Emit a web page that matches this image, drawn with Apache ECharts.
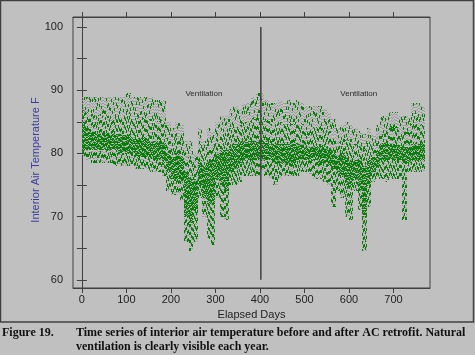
<!DOCTYPE html>
<html><head><meta charset="utf-8">
<script src="https://cdn.jsdelivr.net/npm/echarts@6/dist/echarts.min.js"></script>
<style>html,body{margin:0;padding:0;background:#c0c0c0}#c{width:475px;height:355px}</style>
</head><body><div id="c"></div>
<script>
// 10-day bins (centre day) and temperature envelope
var binDays = [5,15,25,35,45,55,65,75,85,95,105,115,125,135,145,155,165,175,185,195,205,215,225,235,245,255,265,275,285,295,305,315,325,335,345,355,365,375,385,395,405,415,425,435,445,455,465,475,485,495,505,515,525,535,545,555,565,575,585,595,605,615,625,635,645,655,665,675,685,695,705,715,725,735,745,755,765];
var hiVals = [89,89,89,89,89,89,89,89,89,89, 89.5,89,89,89,89,89,88.5,88.5,88.5,85, 84,85,84.5,82,82,80,84,82,84,83.5, 85,86,86,87,87.5,87,88,88,89,89.8, 89.5,88.5,88,88,88.5,88,88.5,88,88.5,88, 87.5,87.5,87.5,87.5,87,86.5,85.5,84,84.5,85, 84.5,84,83.5,83,84,83,84.5,86,86,86.5, 86.5,86,86,86,88,88,87.5];
var coreHiVals = [84.5,84,83.5,83,83,83,83,83,83,83, 83,82.5,82.5,82.5,82.5,82,82,82,81.5,80, 79.5,80,79.5,77,76,76,79,78,79,79, 80,80.5,80.5,81,81.5,82,82,82,82,82, 82,82,81.5,81.5,81.5,81.5,81.5,81.5,81.5,81.5, 81,81,81,81,81,80.5,80,79.5,80,79.5, 79,79,79,78,79,79.5,80.5,81.5,81.5,81.5, 81.5,81,81,81,81.5,81.5,81.5];
var coreLoVals = [80.5,80.5,80.5,80.5,80.5,80.5,80.5,80.5,80,80, 80,80,79.5,79.5,79.5,79.5,79,79,78.5,77, 76,76,75.5,70,69,71,75,73,72,72, 76,75,74,77,77.5,78.5,79,79,79,79, 79,79,79,78.5,78.5,78.5,78.5,78.5,79,79, 79,79,79,78.5,78.5,78,77.5,77,76.5,75, 75,76,74,70,75,77,78,79,79,79, 79,79,78.5,78.5,79,79,79];
var loVals = [79.5,79,78.5,78.5,78.5,78.5,78.5,78,78,78, 78,78,77.5,77.5,77.5,77,77,77,76.5,74, 73.5,73.5,72.5,66,64.5,66,73,70,66.5,65.5, 73,70,69.5,75,75,75.5,76.5,76.5,76.5,76.5, 77,76.5,76,75,76,76.5,76.5,76.5,76.5,77, 77,76.5,76,76,75.5,75,71.5,74,73,70, 69.5,74,71,64.5,71.5,75.5,76,76,75.5,76, 76,76,69.5,77,77,77,77];
var binHalfWidth = 5;
var retrofitDay = 402;
var retrofitRange = [60, 100];
var noteDays = [274, 622];
var noteTemps = [89.4, 89.4];
var noteTexts = ['Ventilation', 'Ventilation'];
var xTicks = [0,100,200,300,400,500,600,700];
var yTicks = [60,65,70,75,80,85,90,95,100];
var yLabels = [60,70,80,90,100];

var GREEN = '#008000', GREY = '#9a9a9a';
var rows = binDays.map(function(d,i){ return [d, loVals[i], coreLoVals[i], coreHiVals[i], hiVals[i]]; });

function seg(x, y1, y2, color, dash, off) {
  var o = {type:'line', silent:true, shape:{x1:x, y1:y1, x2:x, y2:y2},
    style:{stroke:color, lineWidth:1, lineCap:'butt'}};
  if (dash) { o.style.lineDash = dash; o.style.lineDashOffset = off; }
  return o;
}
// deterministic hashed texture phase per pixel column (styling only)
function ph(c, k, p) {
  var h = (Math.imul(c + 1000, 374761393) + Math.imul(k, 668265263)) | 0;
  h = Math.imul(h ^ (h >>> 13), 1274126177);
  h = (h ^ (h >>> 16)) >>> 0;
  return h % p;
}

function renderBin(params, api) {
  var d = api.value(0);
  var xL = Math.round(api.coord([d - binHalfWidth, 80])[0]);
  var xR = Math.round(api.coord([d + binHalfWidth, 80])[0]);
  var yLo = Math.round(api.coord([d, api.value(1)])[1]);
  var yCLo = Math.round(api.coord([d, api.value(2)])[1]);
  var yCHi = Math.round(api.coord([d, api.value(3)])[1]);
  var yHi = Math.round(api.coord([d, api.value(4)])[1]);
  var yMid = Math.round((yHi + yCHi) / 2);
  var ch = [];
  for (var c = xL; c < xR; c++) {
    var x = c + 0.5;
    ch.push(seg(x, yHi, yMid, GREY, [1,2], ph(c,1,3)));
    ch.push(seg(x, yHi, yMid, GREEN, [3,14], ph(c,2,17)));
    ch.push(seg(x, yMid, yCHi, GREY, [1,2], ph(c,3,3)));
    ch.push(seg(x, yMid, yCHi, GREEN, [3,6], ph(c,4,9)));
    ch.push(seg(x, yCHi, yCLo, GREEN, [5,1], ph(c,5,6)));
    ch.push(seg(x, yCHi, yCLo, GREY, [1,4], ph(c,6,5)));
    ch.push(seg(x, yCLo, yLo, GREY, [1,2], ph(c,7,3)));
    ch.push(seg(x, yCLo, yLo, GREEN, [3,5], ph(c,8,8)));
  }
  return {type:'group', children:ch};
}

var AX = '#404040', TXT = '#222222', FONT = 'Liberation Sans, Arial, sans-serif';
function xAx(pos, showLabel) {
  return {type:'value', position:pos, min:-20, max:782,
    axisLine:{show:true, lineStyle:{color:AX, width:1}},
    axisTick:{show:true, length:5, customValues:xTicks, lineStyle:{color:AX}},
    axisLabel:{show:showLabel, customValues:xTicks, margin:6, fontSize:11, color:TXT, fontFamily:FONT},
    splitLine:{show:false},
    name: showLabel ? 'Elapsed Days' : '', nameLocation:'middle', nameGap:17,
    nameTextStyle:{fontSize:11, color:TXT, fontFamily:FONT}};
}
function yAx(pos, showLabel) {
  return {type:'value', position:pos, min:58.7, max:101.6,
    axisLine:{show:true, lineStyle:{color:AX, width:1}},
    axisTick:{show:true, length:5, customValues:yTicks, lineStyle:{color:AX}},
    axisLabel:{show:showLabel, customValues:yLabels, margin:10, fontSize:11, color:TXT, fontFamily:FONT},
    splitLine:{show:false}};
}

var chart = echarts.init(document.getElementById('c'), null, {renderer:'canvas'});
chart.setOption({
  backgroundColor:'#c0c0c0',
  animation:false,
  grid:{left:73, top:17, right:45, bottom:67, show:true, borderColor:AX, borderWidth:1, backgroundColor:'transparent'},
  xAxis:[xAx('bottom', true), xAx('top', false)],
  yAxis:[yAx('left', true), yAx('right', false)],
  series:[
    {type:'custom', renderItem:renderBin, data:rows, encode:{x:0, y:[1,2,3,4]}, clip:true, silent:true},
    {type:'line', data:[[retrofitDay, retrofitRange[0]],[retrofitDay, retrofitRange[1]]], symbol:'none',
     lineStyle:{color:'#404040', width:1.5}, silent:true},
    {type:'scatter', symbolSize:1, itemStyle:{color:'transparent'}, silent:true,
     data: noteDays.map(function(d,i){ return {value:[d, noteTemps[i]], name:noteTexts[i]}; }),
     label:{show:true, position:'inside', formatter:function(p){return p.name;}, fontSize:8, color:'#000', fontFamily:FONT}}
  ],
  graphic:[
    {type:'rect', shape:{x:0.5, y:0.5, width:473, height:321.5}, style:{fill:null, stroke:'#404040', lineWidth:1.5}, silent:true},
    {type:'text', x:36, y:160, rotation:Math.PI/2, style:{text:'Interior Air Temperature F', fontSize:11, fill:'#3c3c9c', fontFamily:FONT, align:'center', verticalAlign:'middle'}},
    {type:'text', x:2, y:333, style:{text:'Figure 19.', fontSize:12, fontWeight:'bold', fill:'#111', fontFamily:'Liberation Serif, serif', verticalAlign:'middle'}},
    {type:'text', x:76, y:333, style:{text:'Time series of interior air temperature before and after AC retrofit. Natural', fontSize:12, fontWeight:'bold', fill:'#111', fontFamily:'Liberation Serif, serif', verticalAlign:'middle'}},
    {type:'text', x:76, y:347, style:{text:'ventilation is clearly visible each year.', fontSize:12, fontWeight:'bold', fill:'#111', fontFamily:'Liberation Serif, serif', verticalAlign:'middle'}}
  ]
});
</script></body></html>
